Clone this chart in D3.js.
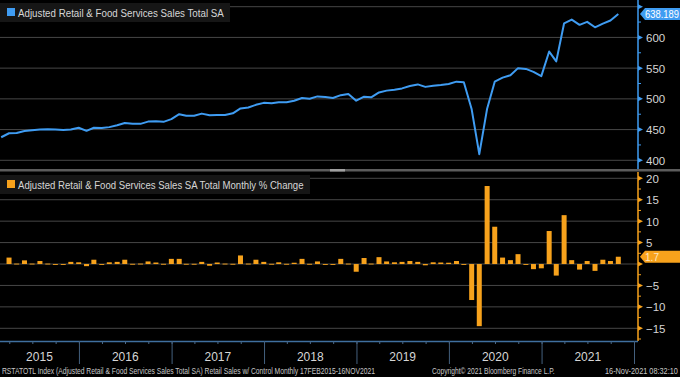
<!DOCTYPE html>
<html>
<head>
<meta charset="utf-8">
<script src="https://cdn.jsdelivr.net/npm/d3@7"></script>
<style>
  html, body { margin: 0; padding: 0; background: #000; }
  svg { display: block; font-family: "Liberation Sans", Arial, sans-serif; }
</style>
</head>
<body>
<svg id="chart" width="680" height="377"></svg>
<script>
// monthly data, Feb 2015 - Oct 2021
const months = [
  '2015-02','2015-03','2015-04','2015-05','2015-06','2015-07','2015-08','2015-09','2015-10','2015-11','2015-12',
  '2016-01','2016-02','2016-03','2016-04','2016-05','2016-06','2016-07','2016-08','2016-09','2016-10','2016-11','2016-12',
  '2017-01','2017-02','2017-03','2017-04','2017-05','2017-06','2017-07','2017-08','2017-09','2017-10','2017-11','2017-12',
  '2018-01','2018-02','2018-03','2018-04','2018-05','2018-06','2018-07','2018-08','2018-09','2018-10','2018-11','2018-12',
  '2019-01','2019-02','2019-03','2019-04','2019-05','2019-06','2019-07','2019-08','2019-09','2019-10','2019-11','2019-12',
  '2020-01','2020-02','2020-03','2020-04','2020-05','2020-06','2020-07','2020-08','2020-09','2020-10','2020-11','2020-12',
  '2021-01','2021-02','2021-03','2021-04','2021-05','2021-06','2021-07','2021-08','2021-09','2021-10'
];

// Adjusted Retail & Food Services Sales Total SA (USD bn)
const salesTotal = [
  437.5, 444, 444.5, 447.7, 449, 450.3, 450.5, 450, 449.5, 450, 453,
  448, 453, 452.6, 454, 457, 460.7, 459.3, 459.3, 463, 463.5, 462.6, 467,
  475, 472.6, 472.6, 476, 473.3, 473.8, 473.8, 476.5, 484.5, 486, 490.3, 493.5,
  493, 494.4, 494.5, 497, 501.5, 500.3, 504, 503, 501.5, 506, 508, 497,
  503.5, 502.5, 510.5, 513.4, 515, 517, 521, 523.5, 519.5, 521.5, 522.6, 524.3,
  528, 527, 483, 410, 484, 528, 534.5, 538.4, 550, 548.7, 544, 537,
  577, 561, 623, 629, 620.5, 625.3, 616.5, 622.5, 627.5, 638.189
];

// monthly % change, Mar 2015 - Oct 2021
const changeMonths = months.slice(1);
const monthlyChange = [
  1.5, 0.1, 0.85, 0.1, 0.7, 0.1, -0.2, -0.2, 0.5, 0.4,
  -0.5, 1.0, -0.1, 0.4, 0.5, 1.0, 0.05, 0.1, 0.6, 0.35, 0.05, 1.2,
  1.2, 0.05, 0.05, 0.5, -0.4, 0.35, 0.1, 0.05, 2.0, 0.1, 1.0, 0.5,
  0.05, 0.4, 0.05, 0.3, 1.2, 0.05, 0.6, -0.1, -0.1, 1.2, 0.1, -1.8,
  1.4, 0.1, 1.6, 0.6, 0.4, 0.5, 0.7, 0.5, -0.3, 0.4, 0.35, 0.3,
  0.7, -0.1, -8.4, -14.5, 18.2, 8.7, 1.5, 0.9, 2.3, -0.1, -1.2, -1.0,
  7.7, -2.7, 11.4, 0.9, -1.3, 0.7, -1.6, 1.0, 0.7, 1.7
];

const topTicks = [400, 450, 500, 550, 600, 650];
const bottomTicks = [-15, -10, -5, 0, 5, 10, 15, 20];
const years = ['2015', '2016', '2017', '2018', '2019', '2020', '2021'];

const topTitle = 'Adjusted Retail & Food Services Sales Total SA';
const bottomTitle = 'Adjusted Retail & Food Services Sales SA Total Monthly % Change';
const footLeft = 'RSTATOTL Index (Adjusted Retail & Food Services Sales Total SA) Retail Sales w/ Control  Monthly 17FEB2015-16NOV2021';
const footMid = 'Copyright\u00A9 2021 Bloomberg Finance L.P.';
const footRight = '16-Nov-2021 08:32:10';

const blue = '#3f9cf2';
const orange = '#f7a21c';
const grid = '#474747';
const textCol = '#d6d6d6';

const svg = d3.select('#chart');
const width = 680, height = 377;
const plotRight = 638;
const axisY = 341;

svg.append('rect').attr('width', width).attr('height', height).attr('fill', '#000');

const parseMonth = d3.timeParse('%Y-%m');
// Bloomberg places a monthly value at the last day of the month
const monthEnd = m => d3.timeDay.offset(d3.timeMonth.offset(parseMonth(m), 1), -1);

const x = d3.scaleTime()
  .domain([new Date(2015, 0, 1), new Date(2022, 0, 1)])
  .range([-13.5, 634]);

const yTop = d3.scaleLinear().domain([400, 650]).range([160.3, 6.7]);
const yBot = d3.scaleLinear().domain([-15, 20]).range([328.3, 178.3]);

// squeeze a text horizontally so it fills a given width (condensed look)
function fitText(sel, x0, y0, w) {
  const natural = sel.node().getComputedTextLength();
  sel.attr('x', 0).attr('y', 0)
    .attr('transform', `translate(${x0},${y0}) scale(${w / natural},1)`);
  return sel;
}

svg.append('clipPath').attr('id', 'plotclip')
  .append('rect').attr('x', 0).attr('y', 0).attr('width', plotRight).attr('height', axisY);

// gridlines
svg.append('g').selectAll('line').data(topTicks).enter().append('line')
  .attr('x1', 0).attr('x2', plotRight)
  .attr('y1', d => yTop(d)).attr('y2', d => yTop(d))
  .attr('stroke', grid).attr('stroke-width', 1);

svg.append('g').selectAll('line').data(bottomTicks).enter().append('line')
  .attr('x1', 0).attr('x2', plotRight)
  .attr('y1', d => yBot(d)).attr('y2', d => yBot(d))
  .attr('stroke', grid).attr('stroke-width', 1);

// panel separator
svg.append('rect').attr('x', 0).attr('y', 169).attr('width', width).attr('height', 2.5).attr('fill', '#5c5c5c');
svg.append('rect').attr('x', 330).attr('y', 169).attr('width', 15).attr('height', 2.5).attr('fill', '#a0a0a0');

const plot = svg.append('g').attr('clip-path', 'url(#plotclip)');

// bars
plot.append('g').attr('fill', orange)
  .selectAll('rect').data(monthlyChange).enter().append('rect')
  .attr('x', (d, i) => x(monthEnd(changeMonths[i])) - 2.5)
  .attr('width', 5)
  .attr('y', d => Math.min(yBot(d), yBot(0)))
  .attr('height', d => Math.max(Math.abs(yBot(d) - yBot(0)), 0.9));

// line
const line = d3.line()
  .x((d, i) => x(monthEnd(months[i])))
  .y(d => yTop(d));

plot.append('path')
  .datum(salesTotal)
  .attr('fill', 'none')
  .attr('stroke', blue)
  .attr('stroke-width', 2)
  .attr('stroke-linejoin', 'round')
  .attr('d', line);

// right axes
function rightAxis(scale, ticks, color, y0, y1, hide) {
  const g = svg.append('g').attr('transform', `translate(${plotRight},0)`);
  g.call(d3.axisRight(scale).tickValues(ticks).tickSize(0).tickPadding(8).tickFormat(d3.format('d')));
  g.select('.domain').remove();
  g.selectAll('text').attr('fill', textCol).attr('font-size', 11.5).attr('dy', '0.35em');
  // labels sitting under a value tag are hidden by it
  g.selectAll('.tick').filter(d => hide.includes(d)).select('text').remove();
  g.append('line').attr('x1', 0).attr('x2', 0).attr('y1', y0).attr('y2', y1)
    .attr('stroke', color).attr('stroke-width', 1.5);
  const step = ticks[1] - ticks[0];
  const minor = [];
  ticks.forEach(t => minor.push(t + step / 2));
  minor.push(ticks[0] - step / 2);
  g.selectAll('.minor').data(minor.filter(v => scale(v) > y0 && scale(v) < y1)).enter().append('line')
    .attr('class', 'minor')
    .attr('x1', 0).attr('x2', 3)
    .attr('y1', d => scale(d)).attr('y2', d => scale(d))
    .attr('stroke', color).attr('stroke-width', 1);
  g.selectAll('.major').data(ticks).enter().append('path')
    .attr('class', 'major')
    .attr('transform', d => `translate(0,${scale(d)})`)
    .attr('d', 'M0,-2.5L5,0L0,2.5Z')
    .attr('fill', color);
  return g;
}

rightAxis(yTop, topTicks, blue, 0, 169, [650]);
rightAxis(yBot, bottomTicks, orange, 172, axisY, [0]);

// value tags
function valueTag(yPos, label, bg, fg, w) {
  const g = svg.append('g').attr('transform', `translate(640,${yPos})`);
  g.append('path')
    .attr('d', 'M0,0L5,-6H40V6H5Z')
    .attr('fill', bg);
  const t = g.append('text').attr('dy', '0.36em')
    .attr('fill', fg).attr('font-size', 11).text(label);
  fitText(t, 5, 0, w);
}
valueTag(yTop(salesTotal[salesTotal.length - 1]), '638.189', blue, '#ffffff', 34);
valueTag(yBot(monthlyChange[monthlyChange.length - 1]), '1.7', orange, '#fbe7c6', 14);

// bottom time axis
const xAxis = d3.axisBottom(x)
  .ticks(d3.timeMonth.every(3))
  .tickSize(3)
  .tickFormat('');
const xg = svg.append('g').attr('transform', `translate(0,${axisY})`).call(xAxis);
xg.select('.domain').attr('d', `M0,0.5H${plotRight}`).attr('stroke', '#3f6f9f').attr('stroke-width', 1.5);
xg.selectAll('.tick line').attr('stroke', '#4a6a8a');
xg.selectAll('.tick').filter(d => d < x.invert(0) || x(d) > plotRight).remove();

const yearStarts = years.map(y => new Date(+y, 0, 1)).concat([new Date(2022, 0, 1)]);
svg.append('g').selectAll('line').data(yearStarts.filter(d => x(d) > 0)).enter().append('line')
  .attr('x1', d => x(d) + 0.5).attr('x2', d => x(d) + 0.5)
  .attr('y1', axisY).attr('y2', 364)
  .attr('stroke', '#44607e').attr('stroke-width', 1);

svg.append('g').selectAll('text').data(years).enter().append('text')
  .attr('x', d => (Math.max(0, x(new Date(+d, 0, 1))) + x(new Date(+d + 1, 0, 1))) / 2)
  .attr('y', 361)
  .attr('text-anchor', 'middle')
  .attr('fill', textCol)
  .attr('font-size', 12)
  .text(d => d);

// legends
function legend(y0, w, color, label, textW) {
  const g = svg.append('g').attr('transform', `translate(0,${y0})`);
  g.append('rect').attr('width', w).attr('height', 19).attr('fill', '#161616');
  g.append('rect').attr('x', 7).attr('y', 5).attr('width', 8).attr('height', 8).attr('fill', color);
  const t = g.append('text').attr('fill', textCol).attr('font-size', 11.5).text(label);
  fitText(t, 18, 13.5, textW);
}
legend(3, 230, blue, topTitle, 206);
legend(175, 310, orange, bottomTitle, 286);

// footer
const foot = svg.append('g').attr('fill', '#c8c8c8').attr('font-size', 8.5);
fitText(foot.append('text').text(footLeft), 2, 374, 374);
fitText(foot.append('text').text(footMid), 432, 374, 123);
fitText(foot.append('text').text(footRight), 605, 374, 73);
</script>
</body>
</html>
